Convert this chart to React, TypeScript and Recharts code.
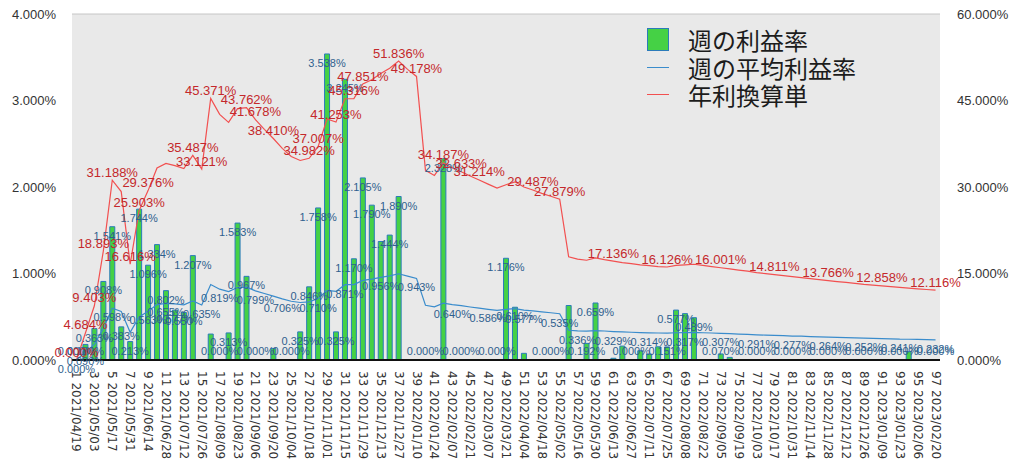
import { ComposedChart, Bar, Line, XAxis, YAxis, CartesianGrid } from 'recharts';

const dates = [
  '2021/04/19', '2021/04/26', '2021/05/03', '2021/05/10', '2021/05/17', '2021/05/24', '2021/05/31', '2021/06/07',
  '2021/06/14', '2021/06/21', '2021/06/28', '2021/07/05', '2021/07/12', '2021/07/19', '2021/07/26', '2021/08/02',
  '2021/08/09', '2021/08/16', '2021/08/23', '2021/08/30', '2021/09/06', '2021/09/13', '2021/09/20', '2021/09/27',
  '2021/10/04', '2021/10/11', '2021/10/18', '2021/10/25', '2021/11/01', '2021/11/08', '2021/11/15', '2021/11/22',
  '2021/11/29', '2021/12/06', '2021/12/13', '2021/12/20', '2021/12/27', '2022/01/03', '2022/01/10', '2022/01/17',
  '2022/01/24', '2022/01/31', '2022/02/07', '2022/02/14', '2022/02/21', '2022/02/28', '2022/03/07', '2022/03/14',
  '2022/03/21', '2022/03/28', '2022/04/04', '2022/04/11', '2022/04/18', '2022/04/25', '2022/05/02', '2022/05/09',
  '2022/05/16', '2022/05/23', '2022/05/30', '2022/06/06', '2022/06/13', '2022/06/20', '2022/06/27', '2022/07/04',
  '2022/07/11', '2022/07/18', '2022/07/25', '2022/08/01', '2022/08/08', '2022/08/15', '2022/08/22', '2022/08/29',
  '2022/09/05', '2022/09/12', '2022/09/19', '2022/09/26', '2022/10/03', '2022/10/10', '2022/10/17', '2022/10/24',
  '2022/10/31', '2022/11/07', '2022/11/14', '2022/11/21', '2022/11/28', '2022/12/05', '2022/12/12', '2022/12/19',
  '2022/12/26', '2023/01/02', '2023/01/09', '2023/01/16', '2023/01/23', '2023/01/30', '2023/02/06', '2023/02/13',
  '2023/02/20',
];

// 週の利益率 (%)
const weeklyRate = [
  0, 0.18, 0.363, 0.908, 1.541, 0.383, 0.213, 1.744, 1.096, 1.334,
  0.802, 0.577, 0.55, 1.207, 0, 0.3, 0, 0.313, 1.583, 0.967,
  0, 0, 0.134, 0, 0, 0.325, 0.846, 1.758, 3.538, 0.325,
  3.245, 1.17, 2.105, 1.79, 1.37, 1.444, 1.89, 0, 0, 0,
  0, 2.328, 0, 0, 0, 0, 0, 0, 1.176, 0.61,
  0.077, 0, 0, 0, 0, 0.63, 0, 0.192, 0.659, 0,
  0.02, 0.161, 0, 0.107, 0.069, 0.153, 0.151, 0.577, 0.536, 0.489,
  0, 0, 0.07, 0.03, 0, 0, 0, 0, 0, 0,
  0, 0, 0, 0, 0, 0, 0, 0, 0, 0,
  0, 0, 0, 0.096, 0, 0, 0,
];

// 週の平均利益率 (%)
const avgRate = [
  0, 0.09, 0.181, 0.363, 0.598, 0.562, 0.32, 0.498, 0.563, 0.64,
  0.655, 0.648, 0.638, 0.682, 0.635, 0.873, 0.819, 0.792, 0.838, 0.842,
  0.799, 0.769, 0.739, 0.706, 0.679, 0.665, 0.673, 0.71, 0.804, 0.793,
  0.871, 0.871, 0.92, 0.935, 0.956, 0.973, 0.997, 0.969, 0.943, 0.633,
  0.615, 0.657, 0.64, 0.628, 0.613, 0.6, 0.586, 0.573, 0.585, 0.594,
  0.577, 0.567, 0.556, 0.546, 0.535, 0.344, 0.336, 0.333, 0.34, 0.335,
  0.329, 0.325, 0.321, 0.317, 0.314, 0.312, 0.31, 0.315, 0.317, 0.319,
  0.315, 0.312, 0.307, 0.304, 0.3, 0.296, 0.291, 0.288, 0.285, 0.281,
  0.277, 0.275, 0.271, 0.268, 0.264, 0.262, 0.259, 0.256, 0.252, 0.25,
  0.247, 0.245, 0.241, 0.24, 0.238, 0.235, 0.232,
];

// 年利換算単 (%)
const annualRate = [
  0, 4.684, 9.403, 18.893, 31.188, 29.2, 16.616, 25.903, 29.376, 33.3,
  34.1, 33.7, 33.2, 35.487, 33.121, 45.371, 42.6, 41.2, 43.6, 43.762,
  41.678, 40.0, 38.41, 36.7, 35.3, 34.6, 34.982, 37.007, 41.8, 41.253,
  45.3, 45.316, 47.851, 48.6, 49.7, 50.6, 51.836, 50.4, 49.178, 32.9,
  32.0, 34.187, 33.3, 32.633, 31.9, 31.214, 30.5, 29.8, 30.4, 30.9,
  30.0, 29.487, 28.9, 28.4, 27.879, 17.9, 17.5, 17.3, 17.7, 17.4,
  17.136, 16.9, 16.7, 16.5, 16.35, 16.2, 16.126, 16.4, 16.5, 16.6,
  16.4, 16.2, 16.001, 15.8, 15.6, 15.4, 15.15, 14.98, 14.811, 14.63,
  14.45, 14.28, 14.1, 13.93, 13.766, 13.6, 13.45, 13.3, 13.12, 12.99,
  12.858, 12.73, 12.6, 12.48, 12.35, 12.23, 12.116,
];

// weeks (1-based) whose data labels are shown
const barLabelWeeks = [
  1, 2, 3, 4, 5, 6, 7, 8, 9, 10, 11, 12, 13, 14, 17, 18, 19, 20, 21, 25, 26, 27, 28, 29, 30,
  31, 32, 33, 34, 36, 37, 40, 42, 44, 48, 49, 50, 54, 58, 59, 63, 67, 68, 70, 73,
  77, 81, 85, 89, 93, 97,
];
const avgLabelWeeks = [
  1, 2, 5, 9, 11, 15, 17, 21, 24, 28, 31, 35, 39, 43, 47, 51, 55, 57, 61, 65, 69, 73,
  77, 81, 85, 89, 93, 97,
];
const annualLabelWeeks = [
  1, 2, 3, 4, 5, 7, 8, 9, 14, 15, 16, 20, 21, 23, 27, 28, 30, 32, 33, 37, 39, 42, 44, 46,
  52, 55, 61, 67, 73, 79, 85, 91, 97,
];

const leftTicks = [0, 1, 2, 3, 4];
const rightTicks = [0, 15, 30, 45, 60];

const data = dates.map((d, i) => ({
  name: `${i + 1} ${d}`,
  weekly: weeklyRate[i],
  avg: avgRate[i],
  annual: annualRate[i],
}));

const BLUE_TEXT = '#2f5f8e';
const RED_TEXT = '#c4282b';
const NUM_FONT = '"Liberation Sans", Arial, sans-serif';
const JP_FONT = '"Noto Sans CJK JP", sans-serif';

const fmt = (v: number) => `${Number(v).toFixed(3)}%`;

// drawn from an invisible line on the bar values so every week keeps its index
const BarLabel = (props: any) => {
  const { x, y, value, index } = props;
  if (!barLabelWeeks.includes(index + 1)) return null;
  const cy = Math.min(y + 9, 351);
  return (
    <text x={x} y={cy} textAnchor="middle" dominantBaseline="central"
      fontSize={11} fontFamily={NUM_FONT} fill={BLUE_TEXT}>
      {fmt(value)}
    </text>
  );
};

const AvgLabel = (props: any) => {
  const { x, y, value, index } = props;
  if (!avgLabelWeeks.includes(index + 1)) return null;
  return (
    <text x={x} y={y + 9} textAnchor="middle" dominantBaseline="central"
      fontSize={11} fontFamily={NUM_FONT} fill={BLUE_TEXT}>
      {fmt(value)}
    </text>
  );
};

const AnnualLabel = (props: any) => {
  const { x, y, value, index } = props;
  if (!annualLabelWeeks.includes(index + 1)) return null;
  return (
    <text x={x} y={y - 8} textAnchor="middle" dominantBaseline="central"
      fontSize={13} fontFamily={NUM_FONT} fill={RED_TEXT}>
      {fmt(value)}
    </text>
  );
};

const XTick = (props: any) => {
  const { x, y, payload } = props;
  if (payload.index % 2 !== 0) return null;
  const ty = y + 3;
  return (
    <text x={x} y={ty} transform={`rotate(90, ${x}, ${ty})`} textAnchor="start"
      dominantBaseline="central" fontSize={12} fontFamily='"DejaVu Sans", sans-serif' fill="#333">
      {payload.value}
    </text>
  );
};

const LeftTick = (props: any) => (
  <text x={56} y={props.y} textAnchor="end" dominantBaseline="central"
    fontSize={13} fontFamily={NUM_FONT} fill="#333">
    {fmt(props.payload.value)}
  </text>
);

const RightTick = (props: any) => (
  <text x={957} y={props.y} textAnchor="start" dominantBaseline="central"
    fontSize={13} fontFamily={NUM_FONT} fill="#333">
    {fmt(props.payload.value)}
  </text>
);

const LegendBox = () => {
  const row = { display: 'flex', alignItems: 'center', height: 27.5 } as const;
  const label = { fontFamily: JP_FONT, fontSize: 24, color: '#1c1c1c', marginLeft: 19, lineHeight: '27px' };
  return (
    <div style={{ position: 'absolute', left: 647, top: 26 }}>
      <div style={row}>
        <div style={{ width: 20, height: 21, background: '#45d145', border: '1px solid #2b7bba' }} />
        <span style={label}>週の利益率</span>
      </div>
      <div style={row}>
        <div style={{ width: 22, height: 1, background: '#3a8ccc' }} />
        <span style={label}>週の平均利益率</span>
      </div>
      <div style={row}>
        <div style={{ width: 22, height: 1, background: '#f25050' }} />
        <span style={label}>年利換算単</span>
      </div>
    </div>
  );
};

export default function App() {
  return (
    <div style={{ position: 'absolute', left: 0, top: 0, width: 1024, height: 472, background: '#fff' }}>
      <ComposedChart width={1024} height={472} data={data}
        margin={{ top: 14, right: 0, bottom: 0, left: 0 }}>
        <CartesianGrid vertical={false} stroke="#c6c6c6" fill="#e9e9e9" />
        <XAxis dataKey="name" interval={0} height={112} tick={<XTick />} tickLine={false}
          axisLine={{ stroke: '#111', strokeWidth: 2 }} />
        <YAxis yAxisId="left" domain={[0, 4]} ticks={leftTicks} width={72}
          axisLine={false} tickLine={false} tick={<LeftTick />} />
        <YAxis yAxisId="right" orientation="right" domain={[0, 60]} ticks={rightTicks} width={84}
          axisLine={false} tickLine={false} tick={<RightTick />} />
        <Bar yAxisId="left" dataKey="weekly" name="週の利益率" barSize={5} fill="#45d145"
          stroke="#2b7bba" strokeWidth={1} isAnimationActive={false} />
        <Line yAxisId="left" dataKey="weekly" stroke="none" dot={false} activeDot={false}
          legendType="none" isAnimationActive={false} label={<BarLabel />} />
        <Line yAxisId="left" dataKey="avg" name="週の平均利益率" type="linear" stroke="#3a8ccc"
          strokeWidth={1.2} dot={false} isAnimationActive={false} label={<AvgLabel />} />
        <Line yAxisId="right" dataKey="annual" name="年利換算単" type="linear" stroke="#f25050"
          strokeWidth={1.2} dot={false} isAnimationActive={false} label={<AnnualLabel />} />
      </ComposedChart>
      <LegendBox />
    </div>
  );
}
